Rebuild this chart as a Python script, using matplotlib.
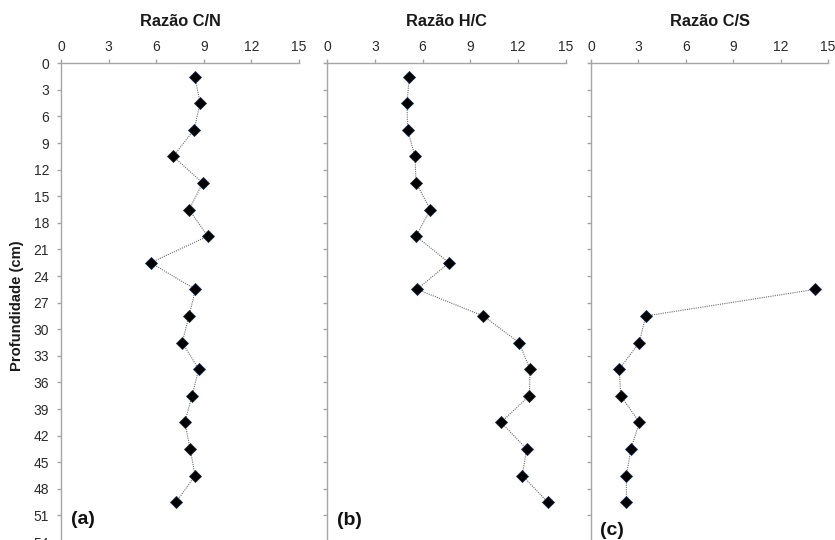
import matplotlib
matplotlib.use("Agg")
import matplotlib.pyplot as plt
import numpy as np

plt.rcParams['font.family'] = ['Liberation Sans', 'DejaVu Sans']

# Sample depths (cm)
depth = [1.5, 4.5, 7.5, 10.5, 13.5, 16.5, 19.5, 22.5, 25.5, 28.5,
         31.5, 34.5, 37.5, 40.5, 43.5, 46.5, 49.5]

# Elemental ratios along the core
ratio_cn = [8.43, 8.77, 8.39, 7.07, 8.93, 8.07, 9.25, 5.65, 8.47, 8.07,
            7.64, 8.68, 8.26, 7.80, 8.14, 8.45, 7.26]
ratio_hc = [5.17, 5.02, 5.06, 5.52, 5.59, 6.49, 5.59, 7.66, 5.65, 9.81,
            12.05, 12.74, 12.70, 10.92, 12.53, 12.26, 13.85]
depth_cs = [25.5, 28.5, 31.5, 34.5, 37.5, 40.5, 43.5, 46.5, 49.5]
ratio_cs = [14.2, 3.46, 3.06, 1.79, 1.88, 3.06, 2.53, 2.24, 2.24]

titles = ['Razão C/N', 'Razão H/C', 'Razão C/S']
panel_tags = ['(a)', '(b)', '(c)']
x_ticks = [0, 3, 6, 9, 12, 15]
y_ticks = list(range(0, 55, 3))

W, H = 835, 540
fig = plt.figure(figsize=(W / 100, H / 100), dpi=100)

# axes boxes in pixels: left, right
boxes = [(61, 299), (327, 566), (591, 828)]
top_px, bot_px = 63.3, 542.0

series = [(ratio_cn, depth), (ratio_hc, depth), (ratio_cs, depth_cs)]
tag_y = [0.046, 0.044, 0.023]

spine_col = '#a6a6a6'
text_col = '#2a2a2a'

for i, ((l, r), (xv, yv)) in enumerate(zip(boxes, series)):
    ax = fig.add_axes([l / W, 1 - bot_px / H, (r - l) / W, (bot_px - top_px) / H])
    ax.plot(xv, yv, linestyle=(0, (1, 1)), color='#6f6f6f', linewidth=0.8,
            marker='D', markersize=5.9, markerfacecolor='black',
            markeredgecolor='#1c2e48', markeredgewidth=0.6, zorder=3)
    ax.set_xlim(0, 15)
    ax.set_ylim(54, 0)
    ax.set_xticks(x_ticks)
    ax.set_yticks(y_ticks)
    ax.xaxis.tick_top()
    for s in ['right', 'bottom']:
        ax.spines[s].set_visible(False)
    for s in ['top', 'left']:
        ax.spines[s].set_color(spine_col)
        ax.spines[s].set_linewidth(1.0)
    ax.tick_params(axis='x', direction='out', length=3, width=1, color=spine_col,
                   pad=4, labelsize=10, labelcolor=text_col)
    ax.tick_params(axis='y', direction='out', length=3, width=1, color=spine_col,
                   pad=5.5, labelsize=10, labelcolor=text_col)
    if i > 0:
        ax.set_yticklabels([])
    ax.text(0.5, 1.088, titles[i], transform=ax.transAxes, ha='center', va='center',
            fontsize=11.8, fontweight='bold', color='#1a1a1a')
    ax.text(0.04, tag_y[i], panel_tags[i], transform=ax.transAxes, ha='left', va='center',
            fontsize=14, fontweight='bold', color='#111111')
    if i == 0:
        ax.text(-0.185, 0.493, 'Profundidade (cm)', transform=ax.transAxes, rotation=90,
                ha='center', va='center', fontsize=10.6, fontweight='bold', color='#1a1a1a')

fig.savefig('out.png', dpi=100)
